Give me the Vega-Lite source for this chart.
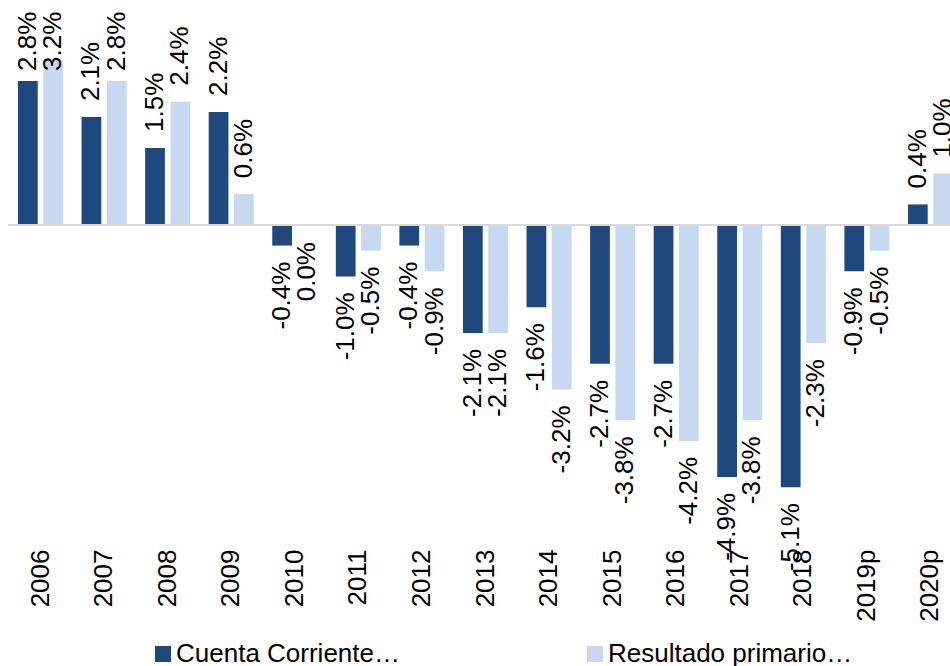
{
  "$schema": "https://vega.github.io/schema/vega-lite/v6.json",
  "width": 942,
  "height": 540,
  "autosize": {"type": "none"},
  "padding": {"left": 8, "top": 0, "right": 0, "bottom": 126},
  "config": {
    "view": {"stroke": null},
    "font": "Liberation Sans"
  },
  "data": {
    "values": [
      {"year": "2006", "series": "Cuenta Corriente…", "value": 2.8, "label": "2.8%"},
      {"year": "2006", "series": "Resultado primario…", "value": 3.2, "label": "3.2%"},
      {"year": "2007", "series": "Cuenta Corriente…", "value": 2.1, "label": "2.1%"},
      {"year": "2007", "series": "Resultado primario…", "value": 2.8, "label": "2.8%"},
      {"year": "2008", "series": "Cuenta Corriente…", "value": 1.5, "label": "1.5%"},
      {"year": "2008", "series": "Resultado primario…", "value": 2.4, "label": "2.4%"},
      {"year": "2009", "series": "Cuenta Corriente…", "value": 2.2, "label": "2.2%"},
      {"year": "2009", "series": "Resultado primario…", "value": 0.6, "label": "0.6%"},
      {"year": "2010", "series": "Cuenta Corriente…", "value": -0.4, "label": "-0.4%"},
      {"year": "2010", "series": "Resultado primario…", "value": -0.02, "label": "0.0%"},
      {"year": "2011", "series": "Cuenta Corriente…", "value": -1.0, "label": "-1.0%"},
      {"year": "2011", "series": "Resultado primario…", "value": -0.5, "label": "-0.5%"},
      {"year": "2012", "series": "Cuenta Corriente…", "value": -0.4, "label": "-0.4%"},
      {"year": "2012", "series": "Resultado primario…", "value": -0.9, "label": "-0.9%"},
      {"year": "2013", "series": "Cuenta Corriente…", "value": -2.1, "label": "-2.1%"},
      {"year": "2013", "series": "Resultado primario…", "value": -2.1, "label": "-2.1%"},
      {"year": "2014", "series": "Cuenta Corriente…", "value": -1.6, "label": "-1.6%"},
      {"year": "2014", "series": "Resultado primario…", "value": -3.2, "label": "-3.2%"},
      {"year": "2015", "series": "Cuenta Corriente…", "value": -2.7, "label": "-2.7%"},
      {"year": "2015", "series": "Resultado primario…", "value": -3.8, "label": "-3.8%"},
      {"year": "2016", "series": "Cuenta Corriente…", "value": -2.7, "label": "-2.7%"},
      {"year": "2016", "series": "Resultado primario…", "value": -4.2, "label": "-4.2%"},
      {"year": "2017", "series": "Cuenta Corriente…", "value": -4.9, "label": "-4.9%"},
      {"year": "2017", "series": "Resultado primario…", "value": -3.8, "label": "-3.8%"},
      {"year": "2018", "series": "Cuenta Corriente…", "value": -5.1, "label": "-5.1%"},
      {"year": "2018", "series": "Resultado primario…", "value": -2.3, "label": "-2.3%"},
      {"year": "2019p", "series": "Cuenta Corriente…", "value": -0.9, "label": "-0.9%"},
      {"year": "2019p", "series": "Resultado primario…", "value": -0.5, "label": "-0.5%"},
      {"year": "2020p", "series": "Cuenta Corriente…", "value": 0.4, "label": "0.4%"},
      {"year": "2020p", "series": "Resultado primario…", "value": 1.0, "label": "1.0%"}
    ]
  },
  "encoding": {
    "x": {
      "field": "year", "type": "nominal", "sort": null,
      "scale": {"range": [0, 955], "paddingInner": 0.291, "paddingOuter": 0.157},
      "axis": {
        "title": null, "domain": false, "ticks": false, "tickSize": 0,
        "labelAngle": -90, "labelFontSize": 26, "labelColor": "#000000",
        "labelFont": "Liberation Sans", "labelPadding": 9, "grid": false
      }
    },
    "xOffset": {
      "field": "series", "type": "nominal",
      "scale": {"paddingInner": 0.22, "paddingOuter": 0}
    }
  },
  "layer": [
    {
      "layer": [
        {
          "mark": {"type": "bar"},
          "encoding": {
            "y": {
              "field": "value", "type": "quantitative",
              "scale": {"domain": [-6.128, 4.377], "nice": false, "zero": false},
              "axis": null
            },
            "color": {
              "field": "series", "type": "nominal",
              "scale": {"domain": ["Cuenta Corriente…", "Resultado primario…"], "range": ["#1F497D", "#C6D9F1"]},
              "legend": {
                "title": null, "orient": "none", "legendX": 142, "legendY": 641,
                "direction": "horizontal", "columns": 2, "columnPadding": 182,
                "labelFontSize": 26, "labelFont": "Liberation Sans", "labelColor": "#000000",
                "labelLimit": 0, "symbolType": "square", "symbolSize": 256,
                "symbolStrokeWidth": 0, "labelOffset": 0, "padding": 0
              }
            }
          }
        },
        {
          "mark": {"type": "rule", "color": "#D9D9D9", "strokeWidth": 2},
          "encoding": {
            "x": null,
            "xOffset": null,
            "y": {"datum": 0, "type": "quantitative"}
          }
        }
      ]
    },
    {
      "layer": [
        {
          "transform": [{"filter": "datum.value > 0"}],
          "mark": {"type": "text", "angle": -90, "align": "left", "baseline": "middle", "dx": 16, "fontSize": 26, "font": "Liberation Sans", "color": "#000000"},
          "encoding": {
            "y": {
              "field": "value", "type": "quantitative",
              "scale": {"domain": [-6.128, 2.685], "range": [540, 87], "nice": false, "zero": false, "clamp": true},
              "axis": null
            },
            "text": {"field": "label"}
          }
        },
        {
          "transform": [{"filter": "datum.value <= 0"}],
          "mark": {"type": "text", "angle": -90, "align": "right", "baseline": "middle", "dx": -16, "fontSize": 26, "font": "Liberation Sans", "color": "#000000"},
          "encoding": {
            "y": {"field": "value", "type": "quantitative", "axis": null},
            "text": {"field": "label"}
          }
        }
      ]
    }
  ],
  "resolve": {"scale": {"y": "independent"}}
}
